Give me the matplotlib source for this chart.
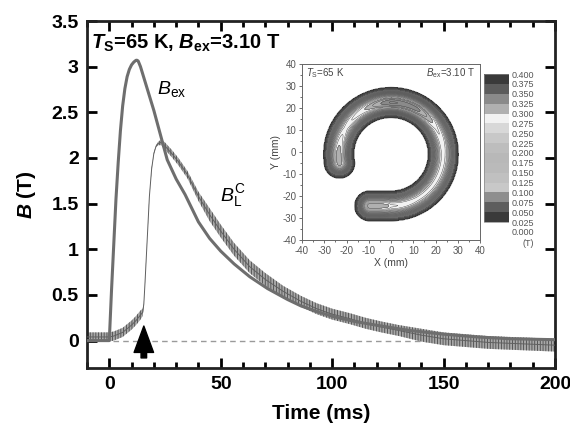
import numpy as np
import matplotlib
matplotlib.use("Agg")
import matplotlib.pyplot as plt
from matplotlib.patches import FancyArrowPatch, Rectangle
from matplotlib.ticker import MultipleLocator

plt.rcParams['font.family'] = ['Liberation Sans', 'DejaVu Sans']
plt.rcParams['mathtext.fontset'] = 'custom'
plt.rcParams['mathtext.rm'] = 'Liberation Sans'
plt.rcParams['mathtext.it'] = 'Liberation Sans:italic'
plt.rcParams['mathtext.bf'] = 'Liberation Sans:bold'
plt.rcParams['mathtext.bfit'] = 'Liberation Sans:italic:bold'
plt.rcParams['axes.unicode_minus'] = False
plt.rcParams['hatch.linewidth'] = 0.6

# applied field B_ex (ms, T)
bex_t = [-10, -5, 0, 1, 2, 3, 4, 5, 6, 7, 8, 9, 10, 11, 12, 12.5, 13, 14, 15, 16, 18, 20,
         23, 26, 30, 34, 40, 45, 50, 56, 63, 71, 80, 86, 93, 101, 110, 122, 135, 150,
         165, 180, 200]
bex_b = [0.0, 0.0, 0.0, 0.55, 1.05, 1.55, 1.95, 2.3, 2.57, 2.76, 2.89, 2.97, 3.02, 3.05,
         3.07, 3.07, 3.06, 3.0, 2.92, 2.84, 2.68, 2.52, 2.25, 1.98, 1.77, 1.6, 1.3, 1.12,
         0.98, 0.84, 0.7, 0.57, 0.45, 0.38, 0.32, 0.26, 0.21, 0.16, 0.11, 0.07, 0.04,
         0.02, 0.01]

# local field B_L^C: centre of the noisy trace and half-width of the noise
bl_t = [-10, -5, 0, 2, 4, 6, 8, 10, 12, 14, 15, 15.5, 16, 17, 18, 19, 20, 21, 22, 23.3,
        25, 28, 31, 35, 40, 45, 50, 56, 63, 70, 78, 86, 93, 100, 108, 115, 122, 130,
        140, 150, 160, 170, 180, 190, 200]
bl_b = [0.04, 0.04, 0.04, 0.05, 0.07, 0.09, 0.13, 0.17, 0.22, 0.28, 0.31, 0.4, 0.62,
        1.1, 1.58, 1.88, 2.05, 2.13, 2.16, 2.17, 2.13, 2.05, 1.96, 1.82, 1.58, 1.38,
        1.2, 1.0, 0.81, 0.67, 0.54, 0.43, 0.35, 0.29, 0.24, 0.19, 0.15, 0.11, 0.06,
        0.02, 0.0, -0.02, -0.03, -0.04, -0.05]
bl_noise = [0.05, 0.05, 0.05, 0.05, 0.05, 0.05, 0.05, 0.05, 0.05, 0.05, 0.04, 0.01,
            0.01, 0.01, 0.01, 0.01, 0.01, 0.01, 0.02, 0.03, 0.04, 0.04, 0.04, 0.04,
            0.05, 0.07, 0.07, 0.07, 0.07, 0.07, 0.06, 0.06, 0.06, 0.06, 0.06, 0.06,
            0.06, 0.06, 0.07, 0.07, 0.07, 0.07, 0.07, 0.07, 0.07]

# inset: trapped-field map of the C-shaped bulk (mm, T)
ring_center = (0.0, -1.0)
ring_radius = 23.5
half_width = 7.5
arc_deg = [190, 180, 150, 120, 90, 60, 30, 0, -30, -60, -90]
arc_amp = [0.31, 0.31, 0.28, 0.30, 0.34, 0.33, 0.29, 0.28, 0.28, 0.28, 0.29]
arm_x = [0.0, -5.0, -9.5]
arm_amp = [0.30, 0.31, 0.31]
cbar_levels = [0.025, 0.05, 0.075, 0.1, 0.125, 0.15, 0.175, 0.2, 0.225, 0.25, 0.275,
               0.3, 0.325, 0.35, 0.375, 0.4]
cbar_colors = ['#3a3a3a', '#5e5e5e', '#8e8e8e', '#c8c8c8', '#c0c0c0', '#bababa',
               '#b8b8b8', '#bdbdbd', '#c8c8c8', '#d8d8d8', '#f2f2f2', '#b0b0b0',
               '#8a8a8a', '#5c5c5c', '#3a3a3a']

fig = plt.figure(figsize=(5.7, 4.28), dpi=100)
ax = fig.add_axes([87 / 570, 1 - 368 / 428, 468 / 570, 347 / 428])

lo = np.array(bl_b) - np.array(bl_noise)
hi = np.array(bl_b) + np.array(bl_noise)
ax.fill_between(bl_t, lo, hi, facecolor='#a8a8a8', lw=0, zorder=2)
ax.fill_between(bl_t, lo, hi, facecolor='none', edgecolor='#4a4a4a', hatch='||||||',
                lw=0, zorder=2)
ax.plot(bl_t, bl_b, color='#606060', lw=0.7, zorder=3)
ax.plot(bex_t, bex_b, color='#6e6e6e', lw=2.2, zorder=4, solid_capstyle='round')
ax.hlines(0, 1.5, 200, colors='#9a9a9a', linestyles=(0, (4, 3)), lw=1.0, zorder=1)

ax.add_patch(FancyArrowPatch((15.5, -0.22), (15.5, 0.19),
                             arrowstyle='simple,head_length=19,head_width=14,tail_width=4',
                             mutation_scale=1, color='black', zorder=5))

ax.set_xlim(-10, 200)
ax.set_ylim(-0.3, 3.5)
ax.set_xticks([0, 50, 100, 150, 200])
ax.xaxis.set_minor_locator(MultipleLocator(10))
yt = [0, 0.5, 1, 1.5, 2, 2.5, 3, 3.5]
ax.set_yticks(yt)
ax.set_yticklabels(['0', '0.5', '1', '1.5', '2', '2.5', '3', '3.5'])
ax.tick_params(which='both', direction='in', top=True, right=True, width=2,
               labelsize=14, pad=6)
ax.tick_params(which='major', length=7)
ax.tick_params(which='minor', length=4.5)
for lab in ax.get_xticklabels() + ax.get_yticklabels():
    lab.set_fontweight('bold')
for sp in ax.spines.values():
    sp.set_linewidth(2)
    sp.set_color('#222222')

ax.set_xlabel('Time (ms)', fontsize=15, fontweight='bold', labelpad=8)
ax.set_ylabel(r'$\mathbfit{B}$ (T)', fontsize=15, fontweight='bold', labelpad=10)

ax.text(-8.2, 3.2, r'$\mathbfit{T}_{\mathbf{S}}$=65 K, $\mathbfit{B}_{\mathbf{ex}}$=3.10 T',
        fontsize=14.5, fontweight='bold', va='baseline', ha='left')
ax.text(21.5, 2.7, r'$B_{\rm ex}$', fontsize=14, va='baseline')
ax.text(49.5, 1.53, r'$B_{\rm L}^{\rm C}$', fontsize=14, va='baseline')

# ---- inset map ----
axi = fig.add_axes([302 / 570, 1 - 240 / 428, 178 / 570, 176 / 428])

ang = np.deg2rad(np.linspace(arc_deg[0], arc_deg[-1], 141))
arc_pts = np.column_stack([ring_center[0] + ring_radius * np.cos(ang),
                           ring_center[1] + ring_radius * np.sin(ang)])
arc_a = np.interp(np.rad2deg(ang)[::-1], arc_deg[::-1], arc_amp[::-1])[::-1]
arm_y = ring_center[1] - ring_radius
xs = np.linspace(arm_x[0], arm_x[-1], 8)[1:]
arm_pts = np.column_stack([xs, np.full_like(xs, arm_y)])
arm_a = np.interp(-xs, [-v for v in arm_x], arm_amp)
pts = np.vstack([arc_pts, arm_pts])
amps = np.concatenate([arc_a, arm_a])

gx = np.linspace(-40, 40, 321)
X, Y = np.meshgrid(gx, gx)
P = np.column_stack([X.ravel(), Y.ravel()])
A = pts[:-1]
B = pts[1:]
AB = B - A
L2 = (AB ** 2).sum(1)
rel = P[:, None, :] - A[None, :, :]
tt = np.clip((rel * AB[None]).sum(2) / L2[None], 0, 1)
proj = A[None] + tt[..., None] * AB[None]
dist = np.sqrt(((P[:, None, :] - proj) ** 2).sum(2))
k = dist.argmin(1)
dmin = dist[np.arange(len(P)), k]
amp_here = amps[k] + tt[np.arange(len(P)), k] * (amps[k + 1] - amps[k])
s = dmin / half_width
Z = (amp_here * np.clip(1 - s ** 2, 0, None) ** 1.6).reshape(X.shape)

axi.contourf(X, Y, Z, levels=cbar_levels, colors=cbar_colors)
axi.contour(X, Y, Z, levels=np.arange(0.0125, 0.4, 0.0125), colors='#3c3c3c',
            linewidths=0.3)
axi.set_xlim(-40, 40)
axi.set_ylim(-40, 40)
axi.set_xticks(range(-40, 41, 10))
axi.set_yticks(range(-40, 41, 10))
axi.xaxis.set_minor_locator(MultipleLocator(5))
axi.yaxis.set_minor_locator(MultipleLocator(5))
axi.tick_params(which='both', direction='out', labelsize=7, colors='#555555', pad=1.5,
                width=0.6)
axi.tick_params(which='major', length=2.5)
axi.tick_params(which='minor', length=1.5)
for sp in axi.spines.values():
    sp.set_linewidth(0.7)
    sp.set_color('#666666')
axi.set_xlabel('X (mm)', fontsize=7.5, color='#444444', labelpad=2)
axi.set_ylabel('Y (mm)', fontsize=7.5, color='#444444', labelpad=1)
axi.text(-38, 36, r'$T_{\rm S}$=65 K', fontsize=7, color='#444444', va='center')
axi.text(38, 36, r'$B_{\rm ex}$=3.10 T', fontsize=7, color='#444444', va='center',
         ha='right')

# ---- colour scale ----
axc = fig.add_axes([484 / 570, 1 - 232 / 428, 25 / 570, 158 / 428])
axc.bar(0.5, 0.025, width=1, bottom=cbar_levels[:-1], color=cbar_colors, lw=0)
axc.add_patch(Rectangle((0, cbar_levels[0]), 1, cbar_levels[-1] - cbar_levels[0],
                        fill=False, lw=0.5, ec='#888888'))
axc.set_xlim(0, 1)
axc.set_ylim(0, 0.4)
ticks = [0.0] + cbar_levels
axc.set_yticks(ticks)
axc.set_yticklabels(['%.3f' % v for v in ticks])
axc.yaxis.tick_right()
axc.set_xticks([])
axc.tick_params(length=0, labelsize=6.5, colors='#555555', pad=2)
for sp in axc.spines.values():
    sp.set_visible(False)
axc.text(1.55, -0.028, '(T)', fontsize=6.5, color='#555555', va='center')

fig.savefig('out.png', dpi=100)
